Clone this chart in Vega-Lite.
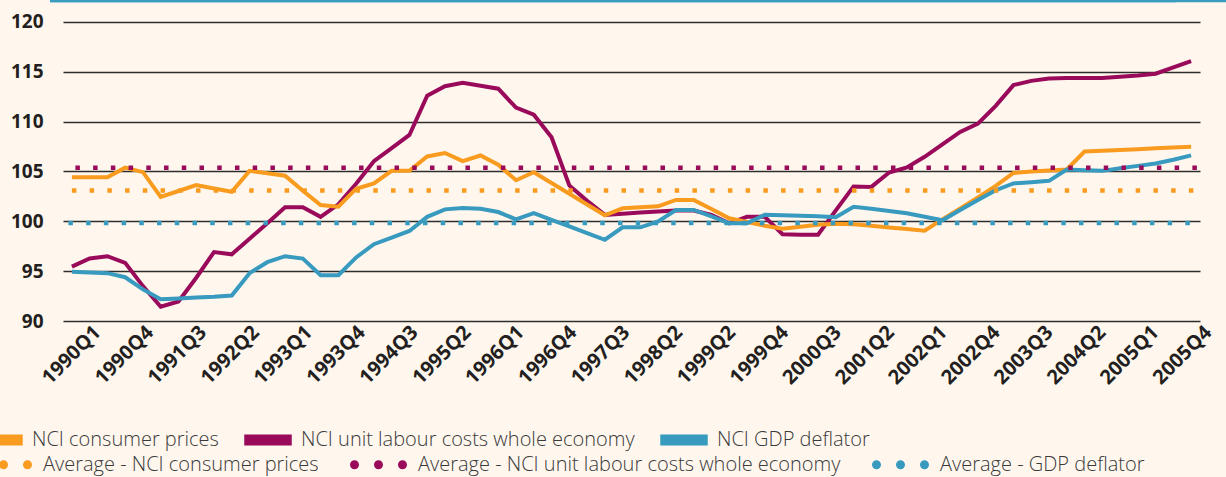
{
  "$schema": "https://vega.github.io/schema/vega-lite/v6.json",
  "width": 1176,
  "height": 320,
  "autosize": "none",
  "padding": {"left": 50, "top": 1, "right": 0, "bottom": 156},
  "background": "#FFF7EE",
  "config": {"view": {"stroke": null}, "font": "Open Sans"},
  "datasets": {
    "main": [
      {"q":"1990Q1","cpi":104.41,"ulc":95.46,"gdp":94.93},
      {"q":"1990Q2","cpi":104.41,"ulc":96.28,"gdp":94.87},
      {"q":"1990Q3","cpi":104.41,"ulc":96.5,"gdp":94.8},
      {"q":"1990Q4","cpi":105.38,"ulc":95.83,"gdp":94.39},
      {"q":"1991Q1","cpi":104.93,"ulc":93.5,"gdp":93.17},
      {"q":"1991Q2","cpi":102.45,"ulc":91.43,"gdp":92.18},
      {"q":"1991Q3","cpi":103.04,"ulc":91.96,"gdp":92.26},
      {"q":"1991Q4","cpi":103.63,"ulc":94.34,"gdp":92.35},
      {"q":"1992Q1","cpi":103.3,"ulc":96.92,"gdp":92.43},
      {"q":"1992Q2","cpi":102.97,"ulc":96.69,"gdp":92.55},
      {"q":"1992Q3","cpi":105.06,"ulc":98.24,"gdp":94.8},
      {"q":"1992Q4","cpi":104.82,"ulc":99.8,"gdp":95.9},
      {"q":"1993Q1","cpi":104.58,"ulc":101.41,"gdp":96.5},
      {"q":"1993Q2","cpi":103.06,"ulc":101.41,"gdp":96.26},
      {"q":"1993Q3","cpi":101.63,"ulc":100.45,"gdp":94.6},
      {"q":"1993Q4","cpi":101.47,"ulc":101.7,"gdp":94.6},
      {"q":"1994Q1","cpi":103.27,"ulc":103.77,"gdp":96.38},
      {"q":"1994Q2","cpi":103.8,"ulc":106.03,"gdp":97.7},
      {"q":"1994Q3","cpi":105.06,"ulc":107.34,"gdp":98.36},
      {"q":"1994Q4","cpi":105.06,"ulc":108.66,"gdp":99.03},
      {"q":"1995Q1","cpi":106.51,"ulc":112.6,"gdp":100.45},
      {"q":"1995Q2","cpi":106.85,"ulc":113.55,"gdp":101.2},
      {"q":"1995Q3","cpi":106.04,"ulc":113.89,"gdp":101.33},
      {"q":"1995Q4","cpi":106.6,"ulc":113.6,"gdp":101.25},
      {"q":"1996Q1","cpi":105.68,"ulc":113.3,"gdp":100.93},
      {"q":"1996Q2","cpi":104.12,"ulc":111.4,"gdp":100.2},
      {"q":"1996Q3","cpi":104.93,"ulc":110.7,"gdp":100.82},
      {"q":"1996Q4","cpi":103.85,"ulc":108.43,"gdp":100.15},
      {"q":"1997Q1","cpi":102.77,"ulc":103.6,"gdp":99.48},
      {"q":"1997Q2","cpi":101.68,"ulc":102.05,"gdp":98.82},
      {"q":"1997Q3","cpi":100.6,"ulc":100.65,"gdp":98.15},
      {"q":"1997Q4","cpi":101.3,"ulc":100.77,"gdp":99.4},
      {"q":"1998Q1","cpi":101.4,"ulc":100.88,"gdp":99.4},
      {"q":"1998Q2","cpi":101.5,"ulc":100.99,"gdp":100.0},
      {"q":"1998Q3","cpi":102.15,"ulc":101.08,"gdp":101.14},
      {"q":"1998Q4","cpi":102.15,"ulc":101.08,"gdp":101.14},
      {"q":"1999Q1","cpi":101.24,"ulc":100.64,"gdp":100.5},
      {"q":"1999Q2","cpi":100.3,"ulc":99.8,"gdp":99.8},
      {"q":"1999Q3","cpi":99.93,"ulc":100.45,"gdp":99.8},
      {"q":"1999Q4","cpi":99.56,"ulc":100.45,"gdp":100.65},
      {"q":"2000Q1","cpi":99.25,"ulc":98.7,"gdp":100.62},
      {"q":"2000Q2","cpi":99.45,"ulc":98.65,"gdp":100.55},
      {"q":"2000Q3","cpi":99.65,"ulc":98.65,"gdp":100.5},
      {"q":"2000Q4","cpi":99.75,"ulc":101.1,"gdp":100.42},
      {"q":"2001Q1","cpi":99.7,"ulc":103.5,"gdp":101.45},
      {"q":"2001Q2","cpi":99.55,"ulc":103.45,"gdp":101.27},
      {"q":"2001Q3","cpi":99.38,"ulc":104.9,"gdp":101.03},
      {"q":"2001Q4","cpi":99.22,"ulc":105.4,"gdp":100.8},
      {"q":"2002Q1","cpi":99.05,"ulc":106.47,"gdp":100.46},
      {"q":"2002Q2","cpi":100.2,"ulc":107.72,"gdp":100.1},
      {"q":"2002Q3","cpi":101.3,"ulc":108.97,"gdp":101.13},
      {"q":"2002Q4","cpi":102.4,"ulc":109.8,"gdp":102.13},
      {"q":"2003Q1","cpi":103.55,"ulc":111.58,"gdp":103.12},
      {"q":"2003Q2","cpi":104.85,"ulc":113.66,"gdp":103.8},
      {"q":"2003Q3","cpi":105.0,"ulc":114.09,"gdp":103.93},
      {"q":"2003Q4","cpi":105.1,"ulc":114.33,"gdp":104.06},
      {"q":"2004Q1","cpi":105.2,"ulc":114.38,"gdp":105.2},
      {"q":"2004Q2","cpi":107.0,"ulc":114.38,"gdp":105.13},
      {"q":"2004Q3","cpi":107.08,"ulc":114.38,"gdp":105.06},
      {"q":"2004Q4","cpi":107.16,"ulc":114.5,"gdp":105.32},
      {"q":"2005Q1","cpi":107.24,"ulc":114.62,"gdp":105.56},
      {"q":"2005Q2","cpi":107.32,"ulc":114.81,"gdp":105.8},
      {"q":"2005Q3","cpi":107.4,"ulc":115.45,"gdp":106.18},
      {"q":"2005Q4","cpi":107.48,"ulc":116.07,"gdp":106.62}
    ],
    "avg": [
      {"s":"avg_cpi","v":103.1},
      {"s":"avg_ulc","v":105.38},
      {"s":"avg_gdp","v":99.82}
    ]
  },
  "layer": [
    {
      "layer": [
        {
          "data": {"name": "main"},
          "transform": [{"fold": ["ulc", "cpi", "gdp"], "as": ["key", "val"]}],
          "mark": {"type": "line", "strokeWidth": 4, "strokeJoin": "miter"},
          "encoding": {
            "x": {"field": "q", "type": "ordinal", "axis": null,
              "scale": {"domain": ["1990Q1","1990Q2","1990Q3","1990Q4","1991Q1","1991Q2","1991Q3","1991Q4","1992Q1","1992Q2","1992Q3","1992Q4","1993Q1","1993Q2","1993Q3","1993Q4","1994Q1","1994Q2","1994Q3","1994Q4","1995Q1","1995Q2","1995Q3","1995Q4","1996Q1","1996Q2","1996Q3","1996Q4","1997Q1","1997Q2","1997Q3","1997Q4","1998Q1","1998Q2","1998Q3","1998Q4","1999Q1","1999Q2","1999Q3","1999Q4","2000Q1","2000Q2","2000Q3","2000Q4","2001Q1","2001Q2","2001Q3","2001Q4","2002Q1","2002Q2","2002Q3","2002Q4","2003Q1","2003Q2","2003Q3","2003Q4","2004Q1","2004Q2","2004Q3","2004Q4","2005Q1","2005Q2","2005Q3","2005Q4"], "range": [13, 1150], "padding": 0}},
            "y": {"field": "val", "type": "quantitative",
              "scale": {"domain": [90, 122.1], "nice": false, "zero": false},
              "axis": {"values": [90, 95, 100, 105, 110, 115, 120], "grid": true, "gridColor": "#2d2d2d", "gridWidth": 1.6, "domain": false, "ticks": false, "labelFont": "Open Sans", "labelFontWeight": "bold", "labelFontSize": 19, "labelColor": "#231F20", "labelPadding": 7, "title": null, "labelOverlap": false, "labelFlush": false}},
            "color": {"field": "key", "type": "nominal",
              "scale": {"domain": ["cpi", "ulc", "gdp"], "range": ["#F89B1F", "#9A0A5A", "#389ABE"]},
              "legend": {"orient": "none", "legendX": -75, "legendY": 415, "direction": "horizontal", "title": null, "padding": 0,
                "symbolType": "M-1,-0.23H1V0.23H-1Z", "symbolSize": 2256, "symbolStrokeWidth": 0,
                "labelFont": "Open Sans", "labelFontSize": 20, "labelFontWeight": 300, "labelColor": "#3a3a3a", "labelOffset": 9, "columnPadding": 25, "labelLimit": 1000,
                "labelExpr": "datum.value == 'cpi' ? 'NCI consumer prices' : datum.value == 'ulc' ? 'NCI unit labour costs whole economy' : 'NCI GDP deflator'",
                "encode": {"symbols": {"update": {"fill": {"scale": "color", "field": "value"}, "fillOpacity": {"value": 1}, "opacity": {"value": 1}}}}}}
          }
        },
        {
          "data": {"name": "avg"},
          "transform": [{"filter": "datum.s == 'avg_cpi'"}],
          "mark": {"type": "rule", "strokeWidth": 4.5, "strokeDash": [4.5, 13.23], "strokeCap": "butt", "x2Offset": 3},
          "encoding": {
            "x": {"datum": "1990Q1", "type": "ordinal"},
            "x2": {"datum": "2005Q4"},
            "y": {"field": "v", "type": "quantitative", "scale": {"domain": [90, 122.1], "nice": false, "zero": false}},
            "stroke": {"field": "s", "type": "nominal",
              "scale": {"domain": ["avg_cpi", "avg_ulc", "avg_gdp"], "range": ["#F89B1F", "#9A0A5A", "#389ABE"]},
              "legend": {"orient": "none", "legendX": -75, "legendY": 435, "direction": "horizontal", "title": null, "padding": 0,
                "symbolType": "M-1,0A0.158,0.158,0,1,0,-0.684,0A0.158,0.158,0,1,0,-1,0Z M-0.158,0A0.158,0.158,0,1,0,0.158,0A0.158,0.158,0,1,0,-0.158,0Z M0.684,0A0.158,0.158,0,1,0,1,0A0.158,0.158,0,1,0,0.684,0Z",
                "symbolSize": 3249, "symbolStrokeWidth": 0,
                "labelFont": "Open Sans", "labelFontSize": 20, "labelFontWeight": 300, "labelColor": "#3a3a3a", "labelOffset": 11, "columnPadding": 31, "labelLimit": 1000,
                "labelExpr": "datum.value == 'avg_cpi' ? 'Average - NCI consumer prices' : datum.value == 'avg_ulc' ? 'Average - NCI unit labour costs whole economy' : 'Average - GDP deflator'",
                "encode": {"symbols": {"update": {"fill": {"scale": "stroke", "field": "value"}, "fillOpacity": {"value": 1}, "opacity": {"value": 1}, "strokeDash": {"value": [1, 0]}}}}}}
          }
        },
        {
          "data": {"name": "avg"},
          "transform": [{"filter": "datum.s == 'avg_ulc'"}],
          "mark": {"type": "rule", "strokeWidth": 4.5, "strokeDash": [4.5, 13.23], "strokeCap": "butt", "xOffset": 3.5, "x2Offset": 6.5},
          "encoding": {
            "x": {"datum": "1990Q1", "type": "ordinal"},
            "x2": {"datum": "2005Q4"},
            "y": {"field": "v", "type": "quantitative", "scale": {"domain": [90, 122.1], "nice": false, "zero": false}},
            "stroke": {"field": "s", "type": "nominal"}
          }
        },
        {
          "data": {"name": "avg"},
          "transform": [{"filter": "datum.s == 'avg_gdp'"}],
          "mark": {"type": "rule", "strokeWidth": 4.5, "strokeDash": [4.5, 13.23], "strokeCap": "butt", "xOffset": -3.5, "x2Offset": 0},
          "encoding": {
            "x": {"datum": "1990Q1", "type": "ordinal"},
            "x2": {"datum": "2005Q4"},
            "y": {"field": "v", "type": "quantitative", "scale": {"domain": [90, 122.1], "nice": false, "zero": false}},
            "stroke": {"field": "s", "type": "nominal"}
          }
        },
        {
          "data": {"values": [{}]},
          "mark": {"type": "rule", "color": "#3A9DC0", "strokeWidth": 2.5, "xOffset": -50},
          "encoding": {"y": {"datum": 122.1, "type": "quantitative", "scale": {"domain": [90, 122.1], "nice": false, "zero": false}}}
        },
        {
          "data": {"values": [{}]},
          "mark": {"type": "rule", "color": "#3A9DC0", "strokeWidth": 2.5},
          "encoding": {"y": {"datum": 122.1, "type": "quantitative", "scale": {"domain": [90, 122.1], "nice": false, "zero": false}}}
        }
      ]
    },
    {
      "data": {"name": "main"},
      "mark": {"type": "point", "opacity": 0},
      "encoding": {
        "x": {"field": "q", "type": "ordinal",
          "scale": {"domain": ["1990Q1","1990Q2","1990Q3","1990Q4","1991Q1","1991Q2","1991Q3","1991Q4","1992Q1","1992Q2","1992Q3","1992Q4","1993Q1","1993Q2","1993Q3","1993Q4","1994Q1","1994Q2","1994Q3","1994Q4","1995Q1","1995Q2","1995Q3","1995Q4","1996Q1","1996Q2","1996Q3","1996Q4","1997Q1","1997Q2","1997Q3","1997Q4","1998Q1","1998Q2","1998Q3","1998Q4","1999Q1","1999Q2","1999Q3","1999Q4","2000Q1","2000Q2","2000Q3","2000Q4","2001Q1","2001Q2","2001Q3","2001Q4","2002Q1","2002Q2","2002Q3","2002Q4","2003Q1","2003Q2","2003Q3","2003Q4","2004Q1","2004Q2","2004Q3","2004Q4","2005Q1","2005Q2","2005Q3","2005Q4"], "range": [47, 1158], "padding": 0},
          "axis": {"orient": "bottom", "values": ["1990Q1","1990Q4","1991Q3","1992Q2","1993Q1","1993Q4","1994Q3","1995Q2","1996Q1","1996Q4","1997Q3","1998Q2","1999Q1","1999Q4","2000Q3","2001Q2","2002Q1","2002Q4","2003Q3","2004Q2","2005Q1","2005Q4"],
            "labelExpr": "datum.value == '1999Q1' ? '1999Q2' : datum.value",
            "labelAngle": -45, "labelAlign": "right", "labelBaseline": "middle", "labelFont": "Open Sans", "labelFontWeight": "bold", "labelFontSize": 20, "labelColor": "#231F20", "labelPadding": 8, "ticks": false, "domain": false, "grid": false, "title": null, "labelOverlap": false, "labelBound": false, "labelFlush": false}}
      }
    }
  ],
  "resolve": {"scale": {"x": "independent"}}
}
